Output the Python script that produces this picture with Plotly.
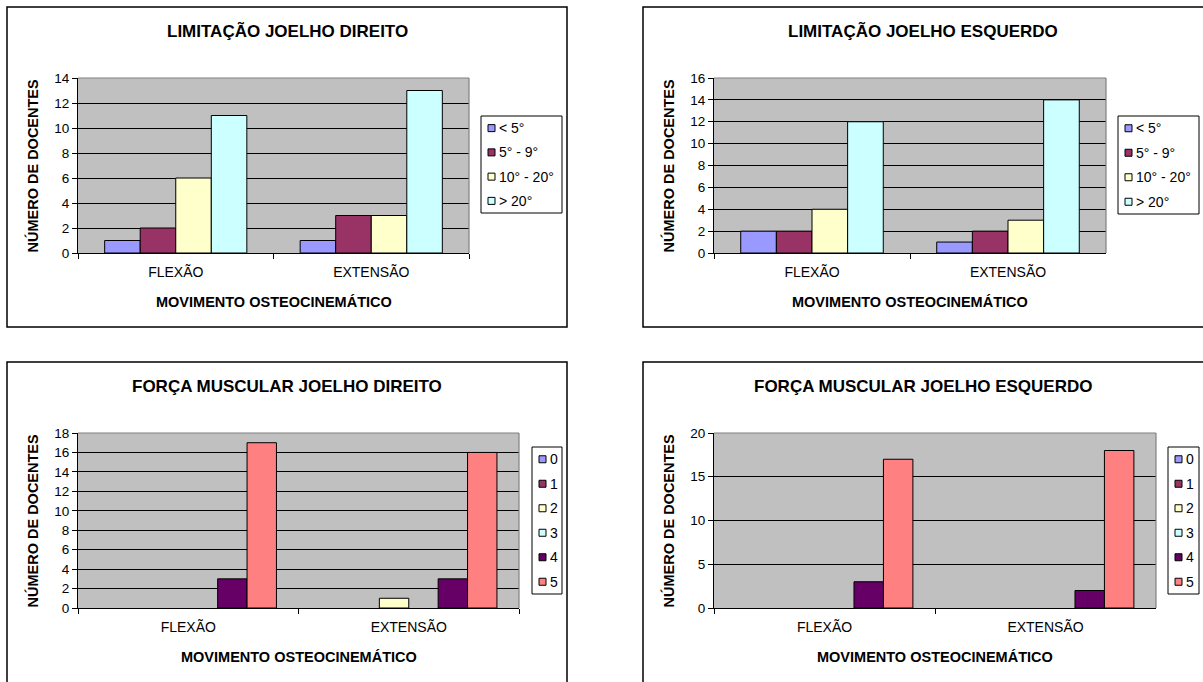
import plotly.graph_objects as go

W, H = 1203, 682
FONT = "Liberation Sans, Arial, sans-serif"

# ---- data ---------------------------------------------------------------
movimentos = ["FLEXÃO", "EXTENSÃO"]

faixas_limitacao = ["< 5°", "5° - 9°", "10° - 20°", "> 20°"]
cores_limitacao = ["#9999FF", "#993366", "#FFFFCC", "#CCFFFF"]

lim_dir_menor5 = [1, 1]
lim_dir_5_9 = [2, 3]
lim_dir_10_20 = [6, 3]
lim_dir_maior20 = [11, 13]

lim_esq_menor5 = [2, 1]
lim_esq_5_9 = [2, 2]
lim_esq_10_20 = [4, 3]
lim_esq_maior20 = [12, 14]

graus_forca = ["0", "1", "2", "3", "4", "5"]
cores_forca = ["#9999FF", "#993366", "#FFFFCC", "#CCFFFF", "#660066", "#FF8080"]

forca_dir_0 = [0, 0]
forca_dir_1 = [0, 0]
forca_dir_2 = [0, 1]
forca_dir_3 = [0, 0]
forca_dir_4 = [3, 3]
forca_dir_5 = [17, 16]

forca_esq_0 = [0, 0]
forca_esq_1 = [0, 0]
forca_esq_2 = [0, 0]
forca_esq_3 = [0, 0]
forca_esq_4 = [3, 2]
forca_esq_5 = [17, 18]

# ---- panel layout (pixel boxes) -----------------------------------------
paineis = [
    dict(titulo="LIMITAÇÃO JOELHO DIREITO", nomes=faixas_limitacao, cores=cores_limitacao,
         series=[lim_dir_menor5, lim_dir_5_9, lim_dir_10_20, lim_dir_maior20],
         ymax=14, dtick=2, caixa=(7, 7, 567, 327), plot=(78, 78, 469, 253),
         leg=(481, 116, 562, 213)),
    dict(titulo="LIMITAÇÃO JOELHO ESQUERDO", nomes=faixas_limitacao, cores=cores_limitacao,
         series=[lim_esq_menor5, lim_esq_5_9, lim_esq_10_20, lim_esq_maior20],
         ymax=16, dtick=2, caixa=(643, 7, 1210, 327), plot=(714, 78, 1106, 253),
         leg=(1118, 116, 1199, 214)),
    dict(titulo="FORÇA MUSCULAR JOELHO DIREITO", nomes=graus_forca, cores=cores_forca,
         series=[forca_dir_0, forca_dir_1, forca_dir_2, forca_dir_3, forca_dir_4, forca_dir_5],
         ymax=18, dtick=2, caixa=(7, 362, 567, 700), plot=(78, 433, 519, 608),
         leg=(532, 447, 562, 594)),
    dict(titulo="FORÇA MUSCULAR JOELHO ESQUERDO", nomes=graus_forca, cores=cores_forca,
         series=[forca_esq_0, forca_esq_1, forca_esq_2, forca_esq_3, forca_esq_4, forca_esq_5],
         ymax=20, dtick=5, caixa=(643, 362, 1210, 700), plot=(714, 433, 1156, 608),
         leg=(1168, 447, 1199, 594)),
]


def px(x):
    return x / W


def py(y):
    return 1 - y / H


fig = go.Figure()
shapes = []
annotations = []
layout = {}

for i, p in enumerate(paineis, start=1):
    sfx = "" if i == 1 else str(i)
    xa, ya = "x" + sfx, "y" + sfx
    n = len(p["series"])
    largura = 1 / (n + 1.5)  # Excel style gap width of 150%
    for k, (nome, cor, valores) in enumerate(zip(p["nomes"], p["cores"], p["series"])):
        fig.add_trace(go.Bar(
            x=movimentos, y=valores, name=nome, xaxis=xa, yaxis=ya,
            width=largura, offset=-n / 2 * largura + k * largura,
            marker=dict(color=cor, line=dict(color="black",
                                             width=[1 if v else 0 for v in valores])),
            showlegend=False, hoverinfo="x+y+name",
        ))

    x0, y0, x1, y1 = p["plot"]
    layout["xaxis" + sfx] = dict(
        domain=[px(x0), px(x1)], anchor=ya, type="category", range=[-0.5, 1.5],
        showline=True, linecolor="black", linewidth=1, mirror=False,
        ticks="outside", tickson="boundaries", ticklen=5, tickcolor="black",
        showgrid=False, ticklabelstandoff=6, automargin=False,
        tickfont=dict(family=FONT, size=14, color="black"), fixedrange=True,
    )
    layout["yaxis" + sfx] = dict(
        domain=[py(y1), py(y0)], anchor=xa, range=[0, p["ymax"]], dtick=p["dtick"],
        showline=True, linecolor="black", linewidth=1, zeroline=False,
        ticks="outside", ticklen=5, tickcolor="black", automargin=False,
        showgrid=True, gridcolor="black", gridwidth=1,
        tickfont=dict(family=FONT, size=13.5, color="black"), fixedrange=True,
    )

    # grey top and right edges of the plot area
    shapes.append(dict(type="line", xref="paper", yref="paper",
                       x0=px(x0), x1=px(x1), y0=py(y0), y1=py(y0),
                       line=dict(color="#808080", width=1.2)))
    shapes.append(dict(type="line", xref="paper", yref="paper",
                       x0=px(x1), x1=px(x1), y0=py(y0), y1=py(y1),
                       line=dict(color="#808080", width=1.2)))

    # outer chart frame
    cx0, cy0, cx1, cy1 = p["caixa"]
    shapes.append(dict(type="rect", xref="paper", yref="paper",
                       x0=px(cx0), x1=px(cx1), y0=py(cy1), y1=py(cy0),
                       line=dict(color="black", width=1.5), fillcolor="rgba(0,0,0,0)"))

    # titles
    annotations.append(dict(text="<b>%s</b>" % p["titulo"], xref="paper", yref="paper",
                            x=px((cx0 + min(cx1, W)) / 2), y=py(cy0 + 24),
                            showarrow=False, xanchor="center", yanchor="middle",
                            font=dict(family=FONT, size=17, color="black")))
    annotations.append(dict(text="<b>MOVIMENTO OSTEOCINEMÁTICO</b>", xref="paper", yref="paper",
                            x=px((x0 + x1) / 2), y=py(y1 + 49),
                            showarrow=False, xanchor="center", yanchor="middle",
                            font=dict(family=FONT, size=14.5, color="black")))
    annotations.append(dict(text="<b>NÚMERO DE DOCENTES</b>", xref="paper", yref="paper",
                            x=px(cx0 + 25), y=py((y0 + y1) / 2), textangle=-90,
                            showarrow=False, xanchor="center", yanchor="middle",
                            font=dict(family=FONT, size=14.5, color="black")))

    # legend box
    lx0, ly0, lx1, ly1 = p["leg"]
    shapes.append(dict(type="rect", xref="paper", yref="paper",
                       x0=px(lx0), x1=px(lx1), y0=py(ly1), y1=py(ly0),
                       line=dict(color="black", width=1), fillcolor="white"))
    passo = (ly1 - ly0) / n
    for k, (nome, cor) in enumerate(zip(p["nomes"], p["cores"])):
        cy = ly0 + passo * (k + 0.5)
        sx = lx0 + 7
        shapes.append(dict(type="rect", xref="paper", yref="paper",
                           x0=px(sx), x1=px(sx + 7), y0=py(cy + 3.5), y1=py(cy - 3.5),
                           line=dict(color="black", width=1), fillcolor=cor))
        annotations.append(dict(text=nome, xref="paper", yref="paper",
                                x=px(sx + 9), y=py(cy), showarrow=False,
                                xanchor="left", yanchor="middle",
                                font=dict(family=FONT, size=14, color="black")))

fig.update_layout(
    width=W, height=H, margin=dict(l=0, r=0, t=0, b=0, autoexpand=False),
    paper_bgcolor="white", plot_bgcolor="#C0C0C0",
    barmode="group", showlegend=False,
    shapes=shapes, annotations=annotations,
    font=dict(family=FONT, color="black"),
    **layout,
)

fig.write_html("out.html")
